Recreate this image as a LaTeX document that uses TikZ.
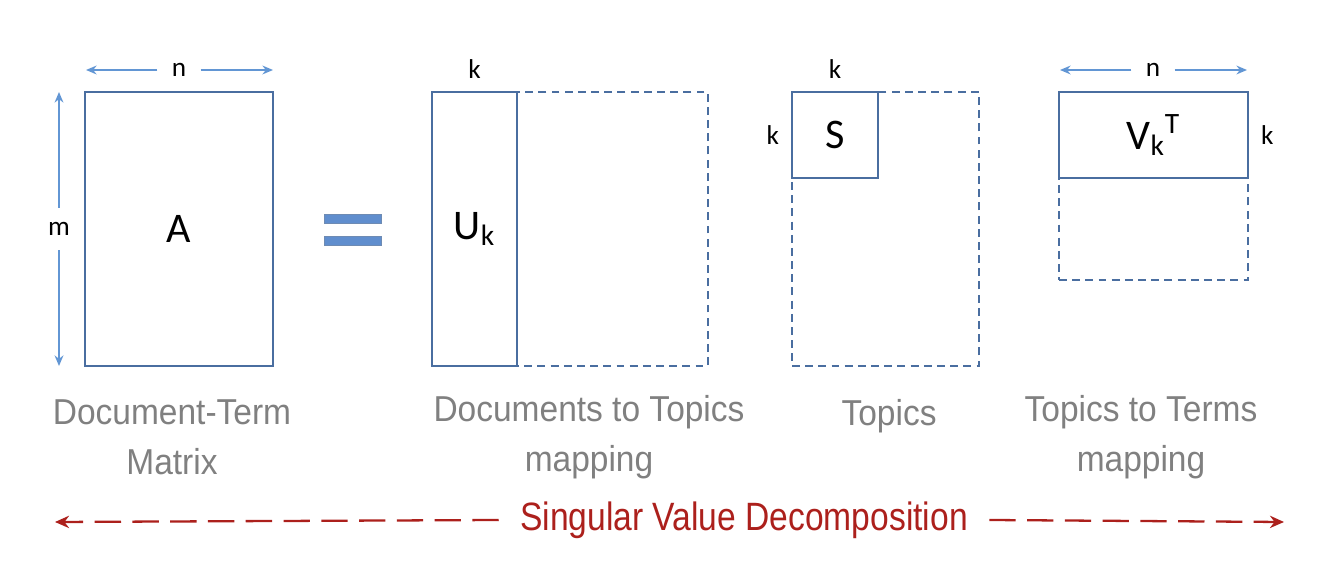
\documentclass[tikz,border=0pt]{standalone}
\usepackage{fontspec}
\setmainfont{Carlito}
\newfontfamily\captionfont[FakeStretch=0.93]{Liberation Sans}
\newfontfamily\svdfont[FakeStretch=0.85]{Liberation Sans}
\usepackage{tikz}
\usetikzlibrary{arrows.meta, positioning}
\definecolor{boxblue}{RGB}{74,110,160}
\definecolor{arrowblue}{RGB}{98,150,212}
\definecolor{barblue}{RGB}{96,142,206}
\definecolor{capgray}{RGB}{128,128,128}
\definecolor{svdred}{RGB}{172,32,28}
\tikzset{
    matbox/.style={draw=boxblue, line width=1.1pt, fill=white, inner sep=0pt, font=\fontsize{24}{28}\selectfont},
    fullbox/.style={draw=boxblue, line width=1.1pt, dash pattern=on 4.5pt off 3pt, inner sep=0pt},
    dimlabel/.style={font=\fontsize{15.5}{18}\selectfont, inner sep=1pt},
    dimarrow/.style={draw=arrowblue, line width=1pt, -{Stealth[length=6pt, width=5pt]}},
    eqbar/.style={draw=boxblue!80, fill=barblue, line width=0.4pt, minimum width=1.14cm, minimum height=0.18cm, inner sep=0pt},
    caption/.style={font=\captionfont\fontsize{20.5}{28.5}\selectfont, text=capgray, align=center},
    svdarrow/.style={draw=svdred, line width=1.3pt, dash pattern=on 15pt off 6.5pt, -{Stealth[length=8pt, width=7pt]}}
}
\begin{document}
\begin{tikzpicture}[x=0.02cm, y=-0.02cm]
    \useasboundingbox (0,0) rectangle (1328,570);

    % Document-term matrix
    \node[matbox, minimum width=3.76cm, minimum height=5.48cm] (A) at (179,229) {A};
    \node[dimlabel, inner sep=8pt] (An) at (179,70) {n};
    \node[dimlabel, inner sep=8pt] (Am) at (59,229) {m};
    \coordinate (An1) at (86,70);
    \coordinate (An2) at (273,70);
    \coordinate (Am1) at (59,92);
    \coordinate (Am2) at (59,366);
    \draw[dimarrow] (An.west) -- (An1);
    \draw[dimarrow] (An.east) -- (An2);
    \draw[dimarrow] (Am.north) -- (Am1);
    \draw[dimarrow] (Am.south) -- (Am2);

    % Equals sign
    \node[eqbar] (eq1) at (352.5,219) {};
    \node[eqbar] (eq2) at (352.5,241) {};

    % Documents to topics
    \node[fullbox, minimum width=5.52cm, minimum height=5.48cm] (Ufull) at (570,229) {};
    \node[matbox, minimum width=1.7cm, minimum height=5.48cm] (Uk) at (474.5,229) {U\textsubscript{k}};
    \node[dimlabel, above=0.2cm of Uk.north] (Ukk) {k};

    % Topics
    \node[fullbox, minimum width=3.74cm, minimum height=5.48cm] (Sfull) at (885.5,229) {};
    \node[matbox, minimum width=1.72cm, minimum height=1.72cm] (S) at (835,135) {S};
    \node[dimlabel, above=0.2cm of S.north] (Sk1) {k};
    \node[dimlabel, left=0.2cm of S.west] (Sk2) {k};

    % Topics to terms
    \node[fullbox, minimum width=3.78cm, minimum height=3.76cm] (Vfull) at (1153.5,186) {};
    \node[matbox, minimum width=3.78cm, minimum height=1.72cm] (V) at (1153.5,135) {V\textsubscript{k}\textsuperscript{T}};
    \node[dimlabel, right=0.2cm of V.east] (Vk) {k};
    \node[dimlabel, inner sep=8pt] (Vn) at (1153,70) {n};
    \coordinate (Vn1) at (1060,70);
    \coordinate (Vn2) at (1247,70);
    \draw[dimarrow] (Vn.west) -- (Vn1);
    \draw[dimarrow] (Vn.east) -- (Vn2);

    % Captions
    \node[caption] (capA) at (172,437) {Document-Term\\Matrix};
    \node[caption] (capU) at (589,437) {Documents to Topics\\mapping};
    \node[caption] (capS) at (889,416) {Topics};
    \node[caption] (capV) at (1141,437) {Topics to Terms\\mapping};

    % SVD arrow
    \node[font=\svdfont\fontsize{22.5}{26}\selectfont, text=svdred, inner sep=12pt] (svd) at (744,520) {Singular Value Decomposition};
    \coordinate (svdL) at (55,522);
    \coordinate (svdR) at (1284,522);
    \draw[svdarrow] (svd.west) -- (svdL);
    \draw[svdarrow] (svd.east) -- (svdR);
\end{tikzpicture}
\end{document}
